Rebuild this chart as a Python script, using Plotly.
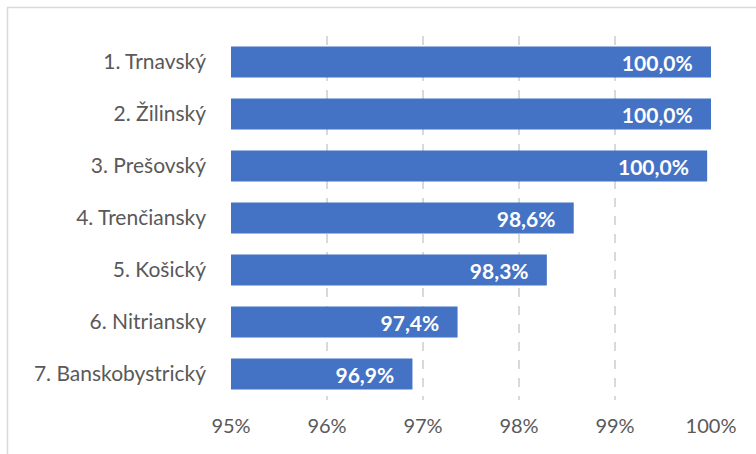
import plotly.graph_objects as go

categories = ["1. Trnavský", "2. Žilinský", "3. Prešovský", "4. Trenčiansky",
              "5. Košický", "6. Nitriansky", "7. Banskobystrický"]
values = [100.0, 100.0, 99.96, 98.57, 98.29, 97.36, 96.89]
tick_vals = [95, 96, 97, 98, 99, 100]
tick_text = ["95%", "96%", "97%", "98%", "99%", "100%"]

FONT = "Lato"
W, H = 756, 454
L, R, T, B = 231, 45, 36, 54
pw, ph = W - L - R, H - T - B

fig = go.Figure(go.Bar(
    x=values, y=categories, orientation="h",
    marker=dict(color="#4472c4", line=dict(width=0)),
    texttemplate="%{x:.1f}%\u00a0\u00a0\u00a0", textposition="inside", insidetextanchor="end",
    textfont=dict(family=FONT, size=21, color="white", weight="bold"),
    cliponaxis=True,
))

def px_x(p):
    return (p - L) / pw

def px_y(p):
    return 1 - (p - T) / ph

fig.add_shape(type="rect", xref="paper", yref="paper",
              x0=px_x(7.5), x1=px_x(W + 5), y0=px_y(7.5), y1=px_y(H + 5),
              line=dict(color="#d9d9d9", width=1.5), fillcolor="rgba(0,0,0,0)", layer="below")

fig.add_annotation(xref="paper", yref="paper", x=px_x(270), y=px_y(3),
                   xanchor="center", yanchor="bottom", showarrow=False,
                   text="<i>Graf 4: Úspešnosť podľa krajov SR, výsledky kraj/ (2019)</i>",
                   font=dict(family=FONT, size=18, color="#44546a"))

fig.update_layout(
    width=W, height=H, margin=dict(l=L, r=R, t=T, b=B),
    paper_bgcolor="white", plot_bgcolor="white",
    separators=", ", bargap=0.4, showlegend=False,
    xaxis=dict(range=[95, 100], tickvals=tick_vals, ticktext=tick_text,
               showgrid=True, gridcolor="#d9d9d9", gridwidth=2, griddash="dash",
               zeroline=False, showline=False, ticks="", ticklabelstandoff=12,
               tickfont=dict(family=FONT, size=20, color="#595959")),
    yaxis=dict(autorange="reversed", showgrid=False, zeroline=False, showline=False,
               ticks="", ticklabelstandoff=24,
               tickfont=dict(family=FONT, size=21, color="#595959")),
)

fig.write_html("out.html", config={"displayModeBar": False},
               post_script="document.body.style.margin='0';")
